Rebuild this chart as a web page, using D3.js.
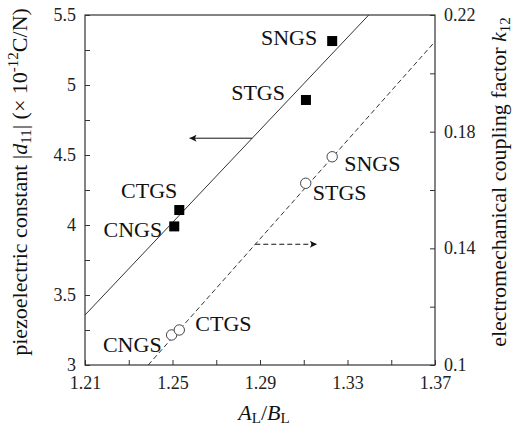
<!DOCTYPE html>
<html><head><meta charset="utf-8">
<script src="https://cdn.jsdelivr.net/npm/d3@7"></script>
<style>
html,body{margin:0;padding:0;background:#fff;}
svg{display:block;}
svg text{font-family:"Liberation Serif","Times New Roman",serif !important;}
</style></head>
<body>
<svg id="c" width="515" height="428"></svg>
<script>
// ---- data ----
const categories = ["CNGS", "CTGS", "STGS", "SNGS"];
const ratioD11 = [1.2508, 1.2531, 1.311, 1.323];
const d11 = [3.99, 4.107, 4.893, 5.314];
const ratioK12 = [1.2496, 1.2531, 1.3109, 1.323];
const k12 = [0.1103, 0.112, 0.1623, 0.1714];
const d11FitX = [1.21, 1.3397];
const d11FitY = [3.357, 5.5];
const k12FitX = [1.2389, 1.37];
const k12FitY = [0.1, 0.2109];
const xTickLabels = [1.21, 1.25, 1.29, 1.33, 1.37];
const yLeftTickLabels = [3, 3.5, 4, 4.5, 5, 5.5];
const yRightTickLabels = [0.1, 0.14, 0.18, 0.22];

// ---- layout ----
const L = 85, R = 435, T = 15, B = 365;
const svg = d3.select("#c");
const x = d3.scaleLinear().domain([1.21, 1.37]).range([L, R]);
const yL = d3.scaleLinear().domain([3, 5.5]).range([B, T]);
const yR = d3.scaleLinear().domain([0.1, 0.22]).range([B, T]);
const axisColor = "#333";

// frame
svg.append("rect").attr("x", L).attr("y", T).attr("width", R - L).attr("height", B - T)
  .attr("fill", "none").attr("stroke", axisColor).attr("stroke-width", 1.2);

// axes
const fmt = d => String(d);
const xAxis = d3.axisBottom(x).tickValues(d3.range(1.21, 1.3701, 0.02)).tickSizeInner(-5).tickSizeOuter(0)
  .tickPadding(11).tickFormat(d => xTickLabels.some(v => Math.abs(v - d) < 1e-6) ? d.toFixed(2) : "");
const gx = svg.append("g").attr("transform", `translate(0,${B})`).call(xAxis);
const yAxisL = d3.axisLeft(yL).tickValues(d3.range(3, 5.501, 0.25)).tickSizeInner(-5).tickSizeOuter(0)
  .tickPadding(9).tickFormat(d => yLeftTickLabels.some(v => Math.abs(v - d) < 1e-6) ? fmt(+d.toFixed(2)) : "");
const gyl = svg.append("g").attr("transform", `translate(${L},0)`).call(yAxisL);
const yAxisR = d3.axisRight(yR).tickValues(d3.range(0.1, 0.2201, 0.02)).tickSizeInner(-5).tickSizeOuter(0)
  .tickPadding(9).tickFormat(d => yRightTickLabels.some(v => Math.abs(v - d) < 1e-6) ? fmt(+d.toFixed(2)) : "");
const gyr = svg.append("g").attr("transform", `translate(${R},0)`).call(yAxisR);
[gx, gyl, gyr].forEach(g => {
  g.attr("font-family", null).attr("font-size", null);
  g.select(".domain").remove();
  g.selectAll("line").attr("stroke", axisColor);
  g.selectAll("text").attr("font-size", 18).attr("fill", "#222");
});
gyl.selectAll("text").attr("dy", "0.3em");
gyr.selectAll("text").attr("dy", "0.3em");

// fit lines
const lineL = d3.line().x(d => x(d[0])).y(d => yL(d[1]));
const lineR = d3.line().x(d => x(d[0])).y(d => yR(d[1]));
svg.append("path").attr("d", lineL(d11FitX.map((v, i) => [v, d11FitY[i]])))
  .attr("stroke", "#333").attr("stroke-width", 1).attr("fill", "none");
svg.append("path").attr("d", lineR(k12FitX.map((v, i) => [v, k12FitY[i]])))
  .attr("stroke", "#333").attr("stroke-width", 1).attr("fill", "none").attr("stroke-dasharray", "5,3");

// arrows
const defs = svg.append("defs");
defs.append("marker").attr("id", "ah").attr("viewBox", "0 0 10 10").attr("refX", 10).attr("refY", 5)
  .attr("markerWidth", 12).attr("markerHeight", 7).attr("markerUnits", "userSpaceOnUse").attr("orient", "auto")
  .append("path").attr("d", "M0,0 L10,5 L0,10 L2.5,5 Z").attr("fill", "#111");
const fitXAt = (fx, fy, yv) => fx[0] + (yv - fy[0]) * (fx[1] - fx[0]) / (fy[1] - fy[0]);
const arrowLY = 4.62, arrowLEnd = 1.2578;
svg.append("line").attr("x1", x(fitXAt(d11FitX, d11FitY, arrowLY))).attr("y1", yL(arrowLY))
  .attr("x2", x(arrowLEnd)).attr("y2", yL(arrowLY)).attr("stroke", "#111").attr("stroke-width", 1)
  .attr("marker-end", "url(#ah)");
const arrowRY = 0.1414, arrowREnd = 1.316;
svg.append("line").attr("x1", x(fitXAt(k12FitX, k12FitY, arrowRY))).attr("y1", yR(arrowRY))
  .attr("x2", x(arrowREnd)).attr("y2", yR(arrowRY)).attr("stroke", "#111").attr("stroke-width", 1)
  .attr("stroke-dasharray", "5,3").attr("marker-end", "url(#ah)");

// markers
const sq = 10;
svg.append("g").selectAll("rect").data(categories).join("rect")
  .attr("x", (d, i) => x(ratioD11[i]) - sq / 2).attr("y", (d, i) => yL(d11[i]) - sq / 2)
  .attr("width", sq).attr("height", sq).attr("fill", "#000");
svg.append("g").selectAll("circle").data(categories).join("circle")
  .attr("cx", (d, i) => x(ratioK12[i])).attr("cy", (d, i) => yR(k12[i])).attr("r", 5.2)
  .attr("fill", "#fff").attr("stroke", "#444").attr("stroke-width", 1);

// point labels (offsets are styling)
const sqOff = [[-12, 3, "end"], [-2, -20, "end"], [-21, -8, "end"], [-15, -4, "end"]];
const ciOff = [[-10, 9, "end"], [16, -7, "start"], [7, 9.5, "start"], [12, 6.5, "start"]];
svg.append("g").selectAll("text").data(categories).join("text")
  .attr("x", (d, i) => x(ratioD11[i]) + sqOff[i][0]).attr("y", (d, i) => yL(d11[i]) + sqOff[i][1])
  .attr("text-anchor", (d, i) => sqOff[i][2]).attr("dy", "0.35em").attr("font-size", 22).attr("fill", "#111").text(d => d);
svg.append("g").selectAll("text").data(categories).join("text")
  .attr("x", (d, i) => x(ratioK12[i]) + ciOff[i][0]).attr("y", (d, i) => yR(k12[i]) + ciOff[i][1])
  .attr("text-anchor", (d, i) => ciOff[i][2]).attr("dy", "0.35em").attr("font-size", 22).attr("fill", "#111").text(d => d);

// axis titles
const xt = svg.append("text").attr("x", (L + R) / 2 + 4).attr("y", 420).attr("text-anchor", "middle")
  .attr("font-size", 22).attr("fill", "#111");
xt.append("tspan").attr("font-style", "italic").text("A");
xt.append("tspan").attr("font-size", 15).attr("dy", 3).text("L");
xt.append("tspan").attr("dy", -3).text("/");
xt.append("tspan").attr("font-style", "italic").text("B");
xt.append("tspan").attr("font-size", 15).attr("dy", 3).text("L");

const ylt = svg.append("text").attr("transform", `translate(27,${(T + B) / 2 - 8}) rotate(-90)`)
  .attr("text-anchor", "middle").attr("font-size", 22).attr("fill", "#111");
ylt.append("tspan").text("piezoelectric constant |");
ylt.append("tspan").attr("font-style", "italic").text("d");
ylt.append("tspan").attr("font-size", 15).attr("dy", 4).text("11");
ylt.append("tspan").attr("dy", -4).text("| (");
ylt.append("tspan").text("\u00D7");
ylt.append("tspan").text(" 10");
ylt.append("tspan").attr("font-size", 15).attr("dy", -9).text("-12");
ylt.append("tspan").attr("dy", 9).text("C/N)");

const yrt = svg.append("text").attr("transform", `translate(506,${(T + B) / 2 - 8}) rotate(-90)`)
  .attr("text-anchor", "middle").attr("font-size", 22).attr("fill", "#111");
yrt.append("tspan").text("electromechanical coupling factor ");
yrt.append("tspan").attr("font-style", "italic").text("k");
yrt.append("tspan").attr("font-size", 15).attr("dy", 4).text("12");
</script>
</body></html>
